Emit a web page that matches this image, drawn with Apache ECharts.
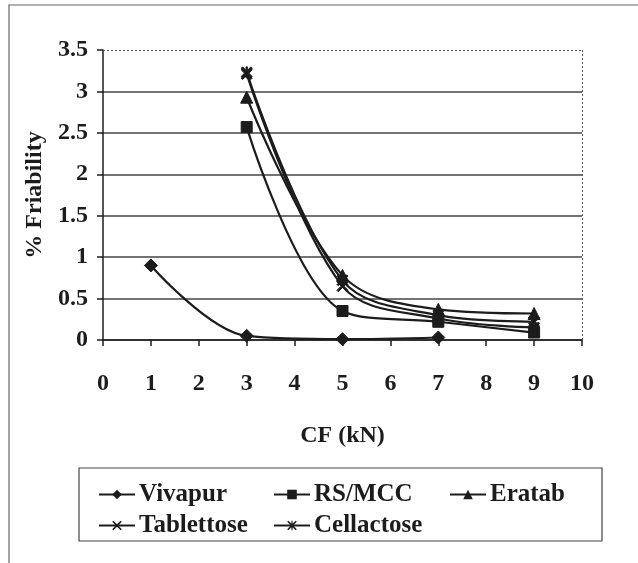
<!DOCTYPE html>
<html>
<head>
<meta charset="utf-8">
<script src="https://cdn.jsdelivr.net/npm/echarts@6/dist/echarts.min.js"></script>
<style>
  html, body { margin: 0; padding: 0; background: #fff; }
  #chart { width: 638px; height: 563px; }
</style>
</head>
<body>
<div id="chart"></div>
<script>
// Compaction force (kN) at which the tablets were made
const cf = [1, 3, 5, 7, 9];

// % friability per excipient (null = not measured)
const vivapur    = [0.90, 0.05, 0.01, 0.03, null];
const rsMcc      = [null, 2.57, 0.35, 0.22, 0.09];
const eratab     = [null, 2.93, 0.78, 0.37, 0.32];
const tablettose = [null, 3.21, 0.65, 0.26, 0.15];
const cellactose = [null, 3.23, 0.72, 0.30, 0.22];

const seriesNames = ['Vivapur', 'RS/MCC', 'Eratab', 'Tablettose', 'Cellactose'];
const xTicks = [0, 1, 2, 3, 4, 5, 6, 7, 8, 9, 10];
const yTicks = [0, 0.5, 1, 1.5, 2, 2.5, 3, 3.5];

const INK = '#1c1c1c';
const FONT = '"Liberation Serif", "DejaVu Serif", serif';

const X_SYMBOL = 'path://M0,1.2 L1.2,0 L5,3.8 L8.8,0 L10,1.2 L6.2,5 L10,8.8 L8.8,10 L5,6.2 L1.2,10 L0,8.8 L3.8,5 Z';
const STAR_SYMBOL = 'path://M0,1.2 L1.2,0 L5,3.8 L8.8,0 L10,1.2 L6.2,5 L10,8.8 L8.8,10 L5,6.2 L1.2,10 L0,8.8 L3.8,5 Z M4.4,0 L5.6,0 L5.6,10 L4.4,10 Z';

function pairs(ys) {
  const out = [];
  ys.forEach((y, i) => { if (y !== null) out.push([cf[i], y]); });
  return out;
}

function lineSeries(name, ys, symbol, size) {
  return {
    name: name,
    type: 'line',
    data: pairs(ys),
    smooth: 0.35,
    symbol: symbol,
    symbolSize: size,
    showAllSymbol: true,
    lineStyle: { color: INK, width: 2.2 },
    itemStyle: { color: INK, borderColor: INK },
    emphasis: { disabled: true },
    animation: false,
    z: 3
  };
}

const series = [
  lineSeries(seriesNames[0], vivapur, 'diamond', 13),
  lineSeries(seriesNames[1], rsMcc, 'rect', 11),
  lineSeries(seriesNames[2], eratab, 'triangle', 12),
  lineSeries(seriesNames[3], tablettose, X_SYMBOL, 11),
  lineSeries(seriesNames[4], cellactose, STAR_SYMBOL, 11),
  {
    // dotted plot-area border along the top and right edges
    type: 'line',
    data: [],
    silent: true,
    markLine: {
      silent: true,
      symbol: 'none',
      label: { show: false },
      lineStyle: { color: '#555', type: [2, 2], width: 1 },
      data: [{ yAxis: yTicks[yTicks.length - 1] }, { xAxis: xTicks[xTicks.length - 1] }]
    }
  }
];

function legendAt(name, left, top) {
  return {
    data: [name],
    left: left,
    top: top,
    orient: 'horizontal',
    itemWidth: 36,
    itemHeight: 12,
    itemGap: 4,
    selectedMode: false,
    textStyle: { fontFamily: FONT, fontWeight: 'bold', fontSize: 25, color: INK, padding: [0, 0, 0, -1] }
  };
}

const chart = echarts.init(document.getElementById('chart'), null, { renderer: 'canvas' });
chart.setOption({
  backgroundColor: '#fff',
  animation: false,
  grid: { left: 103, right: 56, top: 50, bottom: 223, containLabel: false },
  xAxis: {
    type: 'value',
    min: 0,
    max: 10,
    interval: 1,
    name: 'CF (kN)',
    nameLocation: 'middle',
    nameGap: 84,
    nameTextStyle: { fontFamily: FONT, fontWeight: 'bold', fontSize: 24, color: INK },
    axisLine: { show: true, onZero: false, lineStyle: { color: INK, width: 1.5 } },
    axisTick: { show: true, inside: false, length: 6, lineStyle: { color: INK, width: 1.5 } },
    axisLabel: {
      fontFamily: FONT, fontWeight: 'bold', fontSize: 24, color: INK, margin: 32,
      formatter: v => String(v)
    },
    splitLine: { show: false }
  },
  yAxis: {
    type: 'value',
    min: 0,
    max: 3.5,
    interval: 0.5,
    name: '% Friability',
    nameLocation: 'middle',
    nameGap: 53,
    nameRotate: 90,
    nameTextStyle: { fontFamily: FONT, fontWeight: 'bold', fontSize: 24, color: INK },
    axisLine: { show: true, lineStyle: { color: INK, width: 1.5 } },
    axisTick: { show: true, inside: false, length: 6, lineStyle: { color: INK, width: 1.5 } },
    axisLabel: {
      fontFamily: FONT, fontWeight: 'bold', fontSize: 24, color: INK, margin: 15,
      formatter: v => String(v)
    },
    splitLine: {
      show: true,
      lineStyle: {
        color: ['#444', '#444', '#444', '#444', '#444', '#444', '#444', 'rgba(0,0,0,0)'],
        width: 1.5
      }
    }
  },
  legend: [
    legendAt(seriesNames[0], 93, 477),
    legendAt(seriesNames[1], 268, 477),
    legendAt(seriesNames[2], 444, 477),
    legendAt(seriesNames[3], 93, 508),
    legendAt(seriesNames[4], 268, 508)
  ],
  graphic: [
    {
      // page frame: only its top and left edges fall inside the canvas
      type: 'rect',
      shape: { x: 9, y: 5, width: 700, height: 700 },
      style: { fill: 'none', stroke: '#666', lineWidth: 1.2 },
      silent: true,
      z: -1
    },
    {
      type: 'rect',
      shape: { x: 79, y: 468, width: 523, height: 73 },
      style: { fill: 'none', stroke: '#444', lineWidth: 1.2 },
      silent: true
    }
  ],
  series: series
});
</script>
</body>
</html>
